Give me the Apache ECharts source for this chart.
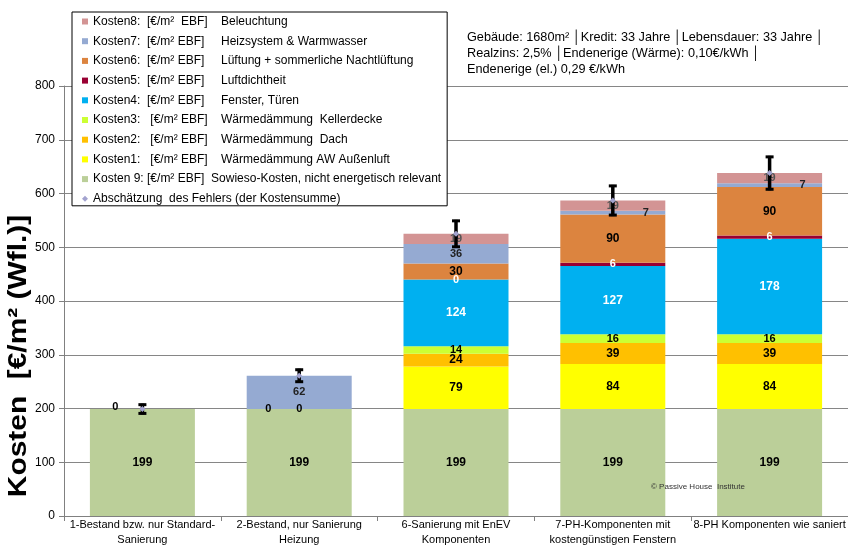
<!DOCTYPE html>
<html>
<head>
<meta charset="utf-8">
<script src="https://cdn.jsdelivr.net/npm/echarts@6/dist/echarts.min.js"></script>
<style>
html,body{margin:0;padding:0;background:#fff;}
#chart{width:848px;height:545px;}
</style>
</head>
<body>
<div id="chart"></div>
<script>
const categories = [
  '1-Bestand bzw. nur Standard-\nSanierung',
  '2-Bestand, nur Sanierung\nHeizung',
  '6-Sanierung mit EnEV\nKomponenten',
  '7-PH-Komponenten mit\nkostengünstigen Fenstern',
  '8-PH Komponenten wie saniert'
];
const kosten9 = [199, 199, 199, 199, 199];
const kosten1 = [0, 0, 79, 84, 84];
const kosten2 = [0, 0, 24, 39, 39];
const kosten3 = [0, 0, 14, 16, 16];
const kosten4 = [0, 0, 124, 127, 178];
const kosten5 = [0, 0, 0, 6, 6];
const kosten6 = [0, 0, 30, 90, 90];
const kosten7 = [0, 62, 36, 7, 7];
const kosten8 = [0, 0, 19, 19, 19];
const errorSize = [10, 13, 26, 29, 32];
const yTicks = [0, 100, 200, 300, 400, 500, 600, 700, 800];

const legendParts = {
  k8: ['Kosten8:', '[€/m²  EBF]', 'Beleuchtung'],
  k7: ['Kosten7:', '[€/m² EBF]', 'Heizsystem & Warmwasser'],
  k6: ['Kosten6:', '[€/m² EBF]', 'Lüftung + sommerliche Nachtlüftung'],
  k5: ['Kosten5:', '[€/m² EBF]', 'Luftdichtheit'],
  k4: ['Kosten4:', '[€/m² EBF]', 'Fenster, Türen'],
  k3: ['Kosten3:', ' [€/m² EBF]', 'Wärmedämmung  Kellerdecke'],
  k2: ['Kosten2:', ' [€/m² EBF]', 'Wärmedämmung  Dach'],
  k1: ['Kosten1:', ' [€/m² EBF]', 'Wärmedämmung AW Außenluft'],
  k9: ['Kosten 9: [€/m² EBF]  Sowieso-Kosten, nicht energetisch relevant'],
  err: ['Abschätzung  des Fehlers (der Kostensumme)']
};
const infoLines = [
  'Gebäude: 1680m² │Kredit: 33 Jahre │Lebensdauer: 33 Jahre │',
  'Realzins: 2,5% │Endenerige (Wärme): 0,10€/kWh │',
  'Endenerige (el.) 0,29 €/kWh'
];

const FONT = 'Liberation Sans, Arial, sans-serif';
const nameOf = k => legendParts[k].join('');

const stackDefs = [
  {key: 'k9', data: kosten9, color: '#bbcf99', label: {}},
  {key: 'k1', data: kosten1, color: '#ffff00', label: {}},
  {key: 'k2', data: kosten2, color: '#ffc000', label: {}},
  {key: 'k3', data: kosten3, color: '#ccff33', label: {fontSize: 11}},
  {key: 'k4', data: kosten4, color: '#00b0f0', label: {color: '#fff'}},
  {key: 'k5', data: kosten5, color: '#990033', label: {color: '#fff', fontSize: 11}},
  {key: 'k6', data: kosten6, color: '#dc843f', label: {}},
  {key: 'k7', data: kosten7, color: '#95aad2', label: {fontSize: 11, color: '#222'}},
  {key: 'k8', data: kosten8, color: '#d39494', label: {fontSize: 11, color: '#555'}}
];
// label tweaks (which zero labels are shown, offsets)
const labelTweaks = {
  'k8-0': {show: true, offset: [-27, -2], color: '#000', fontSize: 11},
  'k1-1': {show: true, offset: [-31, 0], fontSize: 11},
  'k4-1': {show: true, color: '#000', fontSize: 11},
  'k5-2': {show: true},
  'k7-3': {offset: [33, 0]},
  'k7-4': {offset: [33, 0]}
};

const series = stackDefs.map(d => ({
  name: nameOf(d.key),
  type: 'bar',
  stack: 'total',
  barWidth: 105,
  itemStyle: {color: d.color},
  label: Object.assign({
    show: true, position: 'inside', fontSize: 12, fontWeight: 'bold',
    color: '#000', fontFamily: FONT
  }, d.label),
  data: d.data.map((v, i) => {
    const t = labelTweaks[d.key + '-' + i] || {};
    return {value: v, label: Object.assign({show: v !== 0}, t)};
  })
}));

const totals = categories.map((c, i) => stackDefs.reduce((s, d) => s + d.data[i], 0));
series.push({
  name: nameOf('err'),
  type: 'custom',
  z: 10,
  itemStyle: {color: '#a3a3cf'},
  data: categories.map((c, i) => [i, totals[i], errorSize[i]]),
  renderItem: function (params, api) {
    const idx = api.value(0), tot = api.value(1), e = api.value(2);
    const top = api.coord([idx, tot + e]);
    const bot = api.coord([idx, tot - e]);
    const mid = api.coord([idx, tot]);
    const x = mid[0];
    const st = {stroke: '#000', lineWidth: 3.5};
    return {
      type: 'group',
      children: [
        {type: 'line', shape: {x1: x, y1: top[1], x2: x, y2: bot[1]}, style: st},
        {type: 'line', shape: {x1: x - 4, y1: top[1] + 1, x2: x + 4, y2: top[1] + 1}, style: {stroke: '#000', lineWidth: 3}},
        {type: 'line', shape: {x1: x - 4, y1: bot[1] - 1, x2: x + 4, y2: bot[1] - 1}, style: {stroke: '#000', lineWidth: 3}},
        {type: 'polygon', shape: {points: [[x, mid[1] - 3], [x + 3, mid[1]], [x, mid[1] + 3], [x - 3, mid[1]]]},
          style: {fill: '#a3a3cf'}}
      ]
    };
  }
});

const legendOrder = ['k8', 'k7', 'k6', 'k5', 'k4', 'k3', 'k2', 'k1', 'k9', 'err'];
const legendData = legendOrder.map(k => {
  if (k === 'err') return {name: nameOf(k), icon: 'diamond', itemStyle: {color: '#a3a3cf'}};
  return {name: nameOf(k), icon: 'rect'};
});

const chart = echarts.init(document.getElementById('chart'), null, {renderer: 'canvas'});
chart.setOption({
  animation: false,
  backgroundColor: '#fff',
  textStyle: {fontFamily: FONT},
  title: {
    text: infoLines.join('\n'),
    left: 467, top: 29, padding: 0,
    textStyle: {fontSize: 12.7, fontWeight: 'normal', color: '#000', lineHeight: 16, fontFamily: FONT}
  },
  legend: {
    orient: 'vertical',
    left: 72, top: 12,
    padding: [3.5, 6, 1, 10],
    backgroundColor: '#fff',
    borderColor: '#000',
    borderWidth: 1,
    itemWidth: 6, itemHeight: 6,
    itemGap: 7.7,
    selectedMode: false,
    data: legendData,
    formatter: function (name) {
      const k = legendOrder.find(kk => nameOf(kk) === name);
      const p = legendParts[k];
      if (p.length === 1) return '{d|' + p[0] + '}';
      return '{a|' + p[0] + '}{b|' + p[1] + '}{c|' + p[2] + '}';
    },
    textStyle: {
      fontSize: 12, color: '#000', fontFamily: FONT,
      rich: {
        a: {width: 54, fontSize: 12, lineHeight: 14, fontFamily: FONT, color: '#000'},
        b: {width: 74, fontSize: 12, lineHeight: 14, fontFamily: FONT, color: '#000'},
        c: {fontSize: 12, lineHeight: 14, fontFamily: FONT, color: '#000'},
        d: {width: 344, fontSize: 12, lineHeight: 14, fontFamily: FONT, color: '#000'}
      }
    }
  },
  grid: {left: 64, right: 0, top: 86, bottom: 29, containLabel: false, outerBoundsMode: 'none'},
  xAxis: {
    type: 'category',
    data: categories,
    axisLine: {lineStyle: {color: '#808080', width: 1}},
    axisTick: {show: true, length: 5, lineStyle: {color: '#808080'}},
    axisLabel: {fontSize: 11, color: '#000', lineHeight: 15.5, margin: 1, interval: 0, fontFamily: FONT}
  },
  yAxis: {
    type: 'value',
    min: yTicks[0], max: yTicks[yTicks.length - 1], interval: 100,
    axisLine: {show: true, lineStyle: {color: '#808080', width: 1}},
    axisTick: {show: true, length: 5, lineStyle: {color: '#808080'}},
    axisLabel: {fontSize: 12, color: '#000', margin: 9, fontFamily: FONT},
    splitLine: {show: true, lineStyle: {color: '#868686', width: 1}}
  },
  graphic: [
    {
      type: 'text', x: 19, y: 356, rotation: Math.PI / 2, scaleX: 1.15,
      style: {text: 'Kosten  [€/m² (Wfl.)]', font: 'bold 26px ' + FONT, fill: '#000',
        textAlign: 'center', textVerticalAlign: 'middle'}
    },
    {
      type: 'text', x: 651, y: 487, z: 20,
      style: {text: '© Passive House  Institute', font: '8px ' + FONT, fill: '#333',
        textAlign: 'left', textVerticalAlign: 'middle'}
    }
  ],
  series: series
});
</script>
</body>
</html>
